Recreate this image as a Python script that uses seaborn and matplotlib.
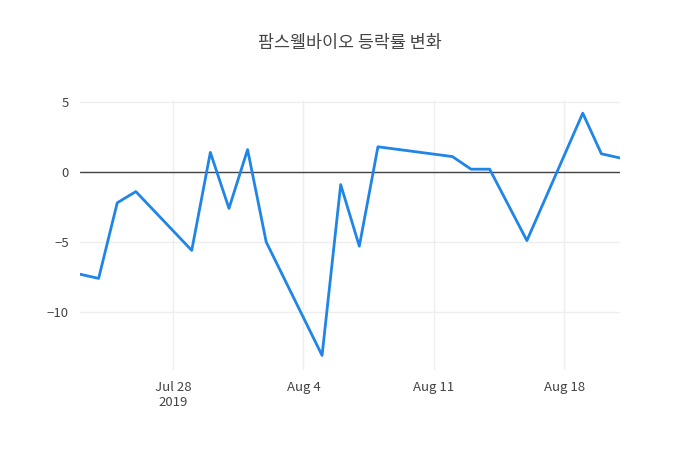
import matplotlib
matplotlib.use("Agg")
import matplotlib.pyplot as plt
import matplotlib.dates as mdates
import seaborn as sns
import pandas as pd

dates = ["2019-07-23","2019-07-24","2019-07-25","2019-07-26","2019-07-29","2019-07-30",
         "2019-07-31","2019-08-01","2019-08-02","2019-08-05","2019-08-06","2019-08-07",
         "2019-08-08","2019-08-12","2019-08-13","2019-08-14","2019-08-16","2019-08-19",
         "2019-08-20","2019-08-21"]
values = [-7.3,-7.6,-2.2,-1.4,-5.6,1.4,-2.6,1.6,-5.0,-13.1,-0.9,-5.3,1.8,1.1,0.2,0.2,-4.9,4.2,1.3,1.0]
title = "팜스웰바이오 등락률 변화"

df = pd.DataFrame({"date": pd.to_datetime(dates), "value": values})

sns.set_style("white")
plt.rcParams['font.family'] = ['Noto Sans CJK KR', 'DejaVu Sans']
fig = plt.figure(figsize=(7, 4.5), dpi=100)
ax = fig.add_axes([80/700, 80/450, 540/700, 270/450])
sns.lineplot(data=df, x="date", y="value", ax=ax, color="#1f85e6", linewidth=2)
ax.axhline(0, color="#444444", linewidth=1, zorder=1)
ax.set_xlim(pd.Timestamp("2019-07-23"), pd.Timestamp("2019-08-21"))
ax.set_ylim(-14.14, 5.14)
ax.set_yticks([-10, -5, 5])
ax.set_yticklabels(["−10", "−5", "5"])
ax.set_yticks([-10, -5, 0, 5])
ax.set_yticklabels(["−10", "−5", "0", "5"])
ticks = pd.to_datetime(["2019-07-28", "2019-08-04", "2019-08-11", "2019-08-18"])
ax.set_xticks(ticks)
ax.set_xticklabels(["Jul 28\n2019", "Aug 4", "Aug 11", "Aug 18"])
ax.grid(True, color="#eeeeee", linewidth=1)
ax.set_axisbelow(True)
for s in ax.spines.values():
    s.set_visible(False)
ax.tick_params(length=0, colors="#444444", labelsize=9.5, pad=8)
ax.set_xlabel("")
ax.set_ylabel("")
fig.text(0.5, 1 - 43/450, title, ha="center", va="center", fontsize=12.5, color="#444444")
fig.savefig("out.png", dpi=100)
